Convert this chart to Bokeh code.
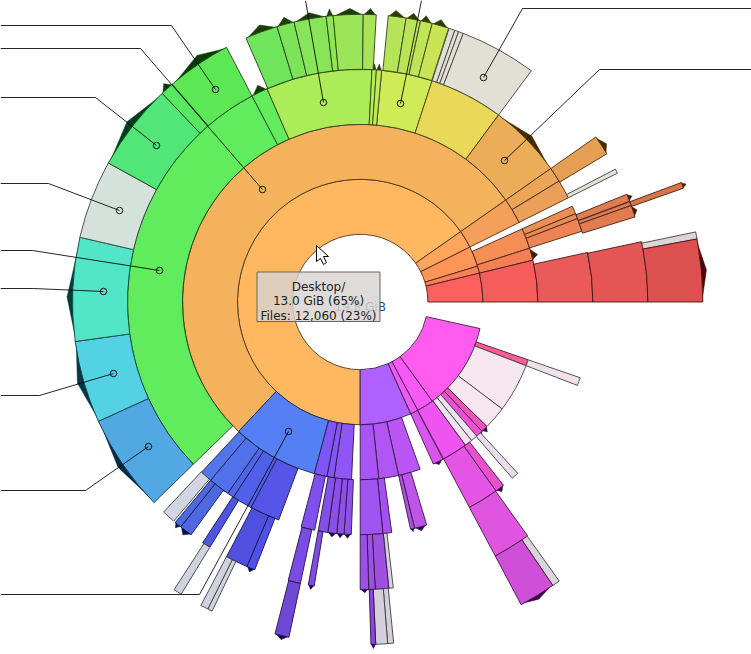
from math import sin, cos, radians
from bokeh.plotting import figure
from bokeh.embed import file_html
from bokeh.resources import INLINE
from bokeh.core.properties import value

# ---- data: degrees clockwise from twelve o'clock, per ring ----
R1_START = [180, 55, 63.4, 73, 76.4, 102.5, 144, 152, 155.7]
R1_END = [415, 63.4, 73, 76.4, 90, 144, 152, 155.7, 180]
R2_START = [223.2, 55, 65.7, 72.4, 76.4, 109, 111, 127, 134.5, 136.7, 139, 141.2, 143.7, 152.2,
            160.3, 167.5, 174, 182.8, 188.5, 190.8, 195]
R2_END = [415, 63.4, 72.4, 76.4, 90, 111, 127, 134.5, 136.7, 139, 141.2, 143.7, 152, 155.7,
          167.5, 174, 180, 188.5, 190.8, 195, 223.2]
R3_START = [5.3, 18, 36.5, 55, 58.7, 65.7, 67.7, 69, 77.7, 109, 137.4, 142, 144.3, 163.4, 166.5,
            172.2, 174.4, 182.2, 184, 185.8, 188, 191.3, 200.5, 208, 213, 214.7, 220,
            225.8, 332.3, 336.4, 2.9, 4]
R3_END = [18, 36.5, 55, 58.7, 63.4, 67.7, 69, 72.3, 90, 111, 139.2, 144.3, 152, 166.5, 167.5,
          174.4, 180, 184, 185.8, 188, 190.4, 194.7, 208, 213, 214.7, 220, 223,
          332.3, 336.4, 362.9, 4, 5.3]
R4_START = [18, 19.2, 20, 21, 55, 62.5, 68, 69.6, 70.4, 77.9, 144.4, 173.4, 174.3, 177, 178.3,
            189.2, 192, 201.5, 203.2, 211.5, 216, 218.6, 220.4, 225.8, 245.5, 262.1, 283,
            298.9, 316.5, 319.2, 336.6, 343.2, 346.7, 353.2, 354.6, 0.6, 5.6, 9.2, 12.1, 14.5]
R4_END = [19.2, 20, 21, 36.5, 59, 63.4, 69.5, 70.4, 72.8, 90, 152, 174.3, 177, 178.3, 180,
          190.4, 194.5, 203.2, 207.7, 213.2, 218.6, 220, 223.1, 245.5, 262.1, 283, 298.9,
          316.5, 319.2, 332.3, 343.2, 346.7, 353.2, 354.6, 360.6, 3.2, 9.2, 12.1, 14.5, 17.9]
R5_START = [69.6, 78.2, 79.4, 144.5, 145.8, 174.4, 175.4, 177.4, 192, 205.6, 206.4, 211.5]
R5_END = [70.6, 79.4, 90, 145.8, 152, 175.4, 177.4, 178.2, 194.4, 206.4, 207.7, 212.9]

TIP_RING = [4, 4, 4, 4, 4, 4, 4, 4, 4, 4, 4, 4, 4, 4, 4, 4, 4, 4, 4, 4, 4, 4,
            3, 3, 3, 3, 4, 5, 5, 4, 4, 2, 5, 2, 2, 2, 3, 3, 3, 4, 4, 4, 5, 5, 4, 3, 3, 3,
            3, 4, 4, 4]
TIP_START = [319.5, 316.5, 299, 283, 262.5, 245.5, 225.8, 336.8, 343.2, 346.7, 353.2, 354.6,
             0.6, 5.6, 9.2, 12.1, 14.5, 268, 251, 233, 301, 321,
             332.3, 2.9, 4, 36.5, 55, 79.4, 69.6, 68, 70.4, 72.4, 145.8, 152.2, 134.5, 136.7,
             142, 163.4, 166.5, 174.3, 177, 178.3, 177.4, 192, 189.2, 182.2, 184, 185.8,
             214.7, 201.5, 216, 218.6]
TIP_END = [332.3, 319.2, 316.5, 262.1, 262.1, 262.1, 245.5, 343.2, 346.7, 353.2, 354.6, 360.6,
           3.2, 9.2, 12.1, 14.5, 17.9, 274, 257, 240, 310, 330,
           336.4, 4, 5.3, 55, 59, 90, 70.6, 69.5, 72.8, 76.4, 152, 155.7, 136.7, 139,
           144.3, 166.5, 167.5, 177, 178.3, 180, 178.2, 194.4, 190.4, 184, 185.8, 188,
           220, 203.2, 218.6, 220]
TIP_PEAK = [326.5, 318, 307.7, 271, 271, 254, 235.7, 340, 345, 350, 354, 358,
            2, 7, 10.5, 13, 16, 271, 254, 235.7, 307.7, 326.5,
            334.7, 3.4, 4.6, 46, 57.3, 84.7, 70.1, 68.7, 71.6, 75, 149, 154, 135.6, 137.8,
            143.2, 165, 167, 175.6, 177.6, 179.1, 177.8, 193.2, 189.8, 183.1, 184.9, 186.9,
            217.3, 202.3, 217.3, 219.3]
TIP_HEIGHT = [8, 6, 7, 5.5, 3, 6.5, 5.5, 7, 7, 6, 7, 6,
              6, 6, 6, 6, 6, 5, 4, 4, 5, 6,
              7, 6, 6, 6, 5, 5, 4, 4, 4, 6, 4, 3, 4, 4,
              4, 4, 3, 3, 3, 3, 4, 4, 4, 4, 4, 4,
              3, 4, 5, 4]

# ---- styles ----
R1_COLORS = ["#FFB860", "#FFA55C", "#FF9558", "#FF8058", "#FF6060", "#FF5CEF", "#F85AF8", "#EE5AF5", "#B060FF"]
R2_COLORS = ["#F5B25C", "#F5A05A", "#F58E55", "#F57F55", "#F55C5C", "#FF5C98", "#F5E6F0", "#F5E6F0", "#F050C0",
             "#EE50D5", "#F0E2EE", "#F0E2EE", "#EE55F0", "#D855F0", "#BB55F5", "#B155F5", "#A855F5",
             "#8F55F5", "#8655F5", "#7F55F5", "#5580F5"]
R3_COLORS = ["#CFEC58", "#EAD858", "#ECAD58", "#ECA558", "#EC9F58", "#EC8F55", "#EC8A55", "#EC8455",
             "#EA5A5A", "#F0E2EA", "#E8DEE8", "#E850D0", "#E555E5", "#BC55E8", "#B450E8", "#A550F0",
             "#A055F0", "#9050EA", "#8F50E8", "#8C50E8", "#8550E8", "#7F50EE", "#5555EA", "#5060EA",
             "#5065E8", "#5070EC", "#5076E8", "#60EC5C", "#65EC5C", "#ACEC58", "#B5EA58", "#C0EA58"]
R4_COLORS = ["#E2E0D5", "#E2E0D5", "#E2E0D5", "#E2E0D5", "#E59E52", "#E5E0D8", "#E07C50", "#E07C50",
             "#E07C50", "#E55555", "#E055E0", "#D5D0DC", "#A050E0", "#9C50E5", "#9D50E5", "#7F4CE5",
             "#7A4CE5", "#5050E8", "#4F50E0", "#4F55E0", "#4F68E0", "#4F68E0", "#D2D6E2", "#52A8E2",
             "#52D2E2", "#52E6C8", "#D5E2DC", "#52E678", "#58E860", "#5CE855", "#70E45A", "#7DE45A",
             "#88E458", "#8FE458", "#9CE458", "#A8E458", "#B5E458", "#BCE458", "#C0E458", "#CAE458"]
R5_COLORS = ["#D87448", "#DDD5D5", "#DD5050", "#DCD4DC", "#D04FD8", "#D5D0DC", "#D5D0DC", "#8E45DD",
             "#6F48D8", "#D0D2DE", "#D0D2DE", "#D0D2DE"]
TIP_COLORS = ["#053D05", "#053D10", "#053D20", "#053D38", "#053D38", "#053840", "#052A44",
              "#1C3D05", "#1C3D05", "#1C3D05", "#1C3D05", "#1C3D05", "#1C3D05", "#2C3D05", "#2C3D05",
              "#2C3D05", "#2C3D05", "#053D38", "#053840", "#052A44", "#053D20", "#053D05",
              "#143D05", "#2C3D05", "#2C3D05", "#452A05", "#452A05", "#4A0505", "#3F1E05", "#3F1E05",
              "#3F1E05", "#3F1E05", "#3A0548", "#3A0548", "#3A0548", "#3A0548", "#3A0548", "#2C0548",
              "#2C0548", "#220548", "#220548", "#220548", "#220548", "#12054A", "#15054A", "#18054A",
              "#18054A", "#18054A", "#05104A", "#05054A", "#05104A", "#05104A"]

RINGS = [(R1_START, R1_END, R1_COLORS), (R2_START, R2_END, R2_COLORS), (R3_START, R3_END, R3_COLORS),
         (R4_START, R4_END, R4_COLORS), (R5_START, R5_END, R5_COLORS)]
HOLE = 67.7
STEP = 55.0
CX, CY = 359.7, 301.5   # page position of the centre
W, H = 751, 654


def dark(hex_color, f=0.3):
    c = [int(hex_color[i:i + 2], 16) for i in (1, 3, 5)]
    return "#%02x%02x%02x" % tuple(int(v * f) for v in c)


def polar(angle, r):
    return r * sin(radians(angle)), r * cos(radians(angle))


def gx(px):
    return px - CX


def gy(py):
    return CY - py


p = figure(width=W, height=H, x_range=(-CX, W - CX), y_range=(CY - H, CY),
           output_backend="svg", toolbar_location=None, min_border=0, outline_line_color=None,
           background_fill_color="white", border_fill_color="white")
p.axis.visible = False
p.grid.visible = False

# tips first, so that the wedge outlines lie on top
for ring, a0, a1, pk, h, col in zip(TIP_RING, TIP_START, TIP_END, TIP_PEAK, TIP_HEIGHT, TIP_COLORS):
    r = HOLE + STEP * ring
    pts = [polar(a0 + (a1 - a0) * i / 8, r - 1) for i in range(9)] + [polar(pk, r + h)]
    p.patch([q[0] for q in pts], [q[1] for q in pts], fill_color=col, line_color=col, line_width=0.5)

for i, (starts, ends, colors) in enumerate(RINGS):
    p.annular_wedge(x=0, y=0,
                    inner_radius=HOLE + STEP * i, outer_radius=HOLE + STEP * (i + 1),
                    start_angle=[radians(90 - e) for e in ends],
                    end_angle=[radians(90 - s) for s in starts],
                    fill_color=colors, line_color=[dark(c) for c in colors], line_width=1,
                    line_alpha=0.9)

# centre label, below the tooltip
p.text(x=[0], y=[gy(306)], text=["19.8 GiB"], text_font=value("DejaVu Sans"), text_font_size="12px",
       text_color="#1a5a9a", text_align="center", text_baseline="alphabetic")

# leader lines
LEADERS = [
    [(215, 89), (171, 25), (0, 25)], [(262, 189), (140, 48), (0, 48)], [(156, 145), (95, 97), (0, 97)],
    [(119, 210), (48, 183), (0, 183)], [(159, 270), (32, 250), (0, 250)], [(103, 291), (33, 288), (0, 288)],
    [(113, 373), (39, 395), (0, 395)], [(148, 446), (85, 490), (0, 490)], [(288, 431), (199, 594), (0, 594)],
    [(323, 102), (305, 0)], [(400, 103), (421, 0)], [(483, 77), (522, 8), (751, 8)], [(504, 160), (599, 69), (751, 69)],
]
for leader in LEADERS:
    p.line([gx(q[0]) for q in leader], [gy(q[1]) for q in leader], line_color="#000000", line_width=1, line_alpha=0.85)
p.scatter([gx(l[0][0]) for l in LEADERS], [gy(l[0][1]) for l in LEADERS], marker="circle", size=6.5,
          fill_color=None, line_color="#111111", line_width=1)

# tooltip
p.quad(left=[gx(256.5)], right=[gx(379.5)], bottom=[gy(321)], top=[gy(271.5)], fill_color="#D8D3D1", fill_alpha=0.82,
       line_color="#666666", line_width=1)
TIP_LINES = ["Desktop/", "13.0 GiB (65%)", "Files: 12,060 (23%)"]
TIP_BASE = [286, 300.5, 315]
p.text(x=[gx(318)] * 3, y=[gy(b) for b in TIP_BASE], text=TIP_LINES, text_font=value("DejaVu Sans"),
       text_font_size="12px", text_color="#222222", text_align="center", text_baseline="alphabetic")

# mouse pointer
CURSOR = [(316, 245), (316, 261), (320, 258), (323, 264), (326, 262), (323, 256), (328, 256)]
p.patch([gx(q[0]) for q in CURSOR], [gy(q[1]) for q in CURSOR], fill_color="white", line_color="black", line_width=1)

open("out.html", "w").write(file_html(p, INLINE))
